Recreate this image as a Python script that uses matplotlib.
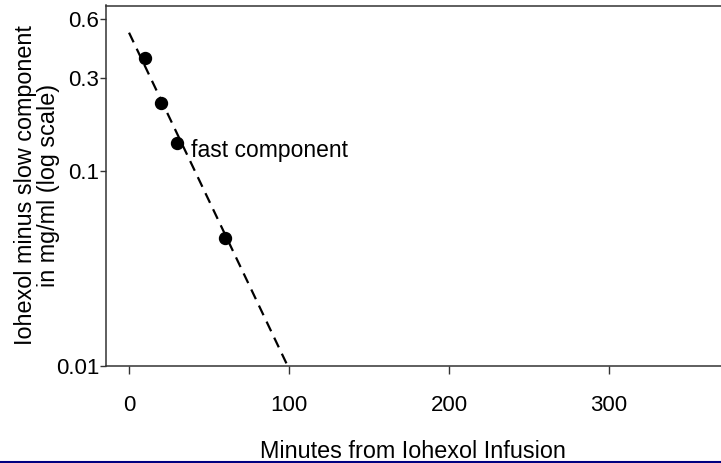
import matplotlib.pyplot as plt
import numpy as np
from matplotlib.lines import Line2D

plt.rcParams['font.family'] = ['Liberation Sans', 'DejaVu Sans']

# Pontos medidos (iohexol menos componente lenta)
minutos = [10, 20, 30, 60]
valores = [0.378, 0.223, 0.138, 0.045]

# Componente rápida ajustada: y = A * exp(-k t)
A_rapida = 0.51
k_rapida = 0.0397
t_fim = 99

yticks = [0.01, 0.1, 0.3, 0.6]
yticklabels = ['0.01', '0.1', '0.3', '0.6']
xticks = [0, 100, 200, 300]

fig = plt.figure(figsize=(7.21, 4.63), dpi=100)
ax = fig.add_axes([106 / 721, 1 - 366 / 463, 1 - 106 / 721, (366 - 5.5) / 463])

t = np.linspace(0, t_fim, 200)
ax.plot(t, A_rapida * np.exp(-k_rapida * t), color='black', lw=1.6, dashes=(4.8, 3.2))
ax.plot(minutos, valores, 'o', color='black', markersize=8.6)

ax.text(39, 0.118, 'fast component', fontsize=16.5, ha='left', va='baseline')

ax.set_yscale('log')
ax.set_xlim(-14.4, 370)
ax.set_ylim(0.00995, 0.703)
ax.set_yticks(yticks)
ax.set_yticklabels(yticklabels)
ax.yaxis.set_minor_locator(plt.NullLocator())
ax.set_xticks(xticks)

for lado in ['left', 'top', 'bottom']:
    ax.spines[lado].set_color('#333333')
    ax.spines[lado].set_linewidth(1.1)
ax.spines['right'].set_visible(False)

ax.tick_params(axis='y', length=4.5, width=1, pad=0.5, labelsize=16, color='#333333')
ax.tick_params(axis='x', length=5.8, width=1, pad=15, labelsize=16, color='#333333')

# Rótulos dos eixos
fig.text(37 / 721, 1 - 185 / 463, 'Iohexol minus slow component\nin mg/ml (log scale)',
         rotation=90, ha='center', va='center', multialignment='center',
         fontsize=16.8, linespacing=1.0)
fig.text(413 / 721, 1 - 458.5 / 463, 'Minutes from Iohexol Infusion',
         ha='center', va='baseline', fontsize=16.8)

# Linha azul no rodapé
fig.add_artist(Line2D([0, 1], [1.2 / 463, 1.2 / 463], color='#000080', lw=1.5,
                      transform=fig.transFigure))

plt.savefig('out.png', dpi=100)
